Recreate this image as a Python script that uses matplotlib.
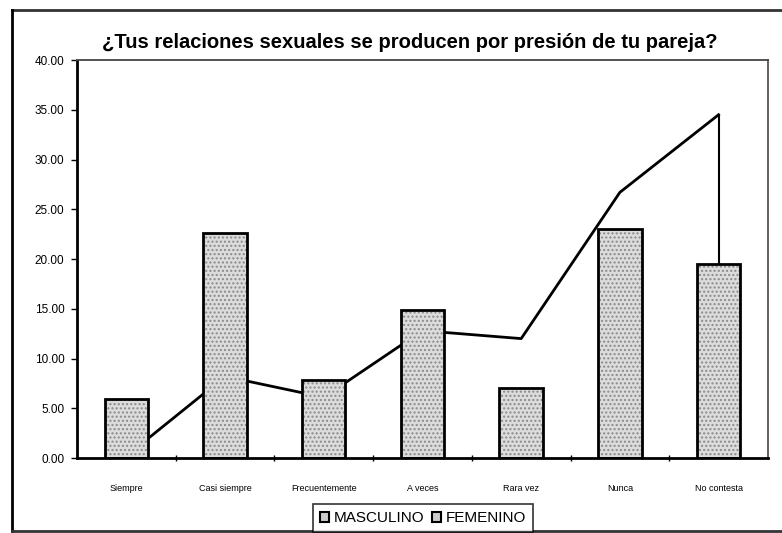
#Chart: presion de la pareja en las relaciones sexuales (masculino / femenino)

import matplotlib
matplotlib.use("Agg")
import matplotlib.pyplot as plt
from matplotlib.patches import Rectangle
from matplotlib.lines import Line2D

plt.rcParams['font.family'] = ['Liberation Sans', 'DejaVu Sans']

#data
categorias = ["Siempre", "Casi siempre", "Frecuentemente", "A veces", "Rara vez", "Nunca", "No contesta"]
masculino = [5.9, 22.6, 7.8, 14.9, 7.0, 23.0, 19.5]
femenino = [0.2, 8.2, 6.1, 12.8, 12.0, 26.7, 34.5]
yticks = [0, 5, 10, 15, 20, 25, 30, 35, 40]

x = list(range(len(categorias)))

fig = plt.figure(figsize=(7.82, 5.33), dpi=100)
ax = fig.add_axes([0.0985, 0.1407, 0.8835, 0.7467])

#line (femenino) goes behind the bars
ax.plot(x, femenino, color="black", linewidth=2, zorder=1)
ax.vlines(x[-1], 0, femenino[-1], color="black", linewidth=1.5, zorder=1)

#bars (masculino): dotted grey fill, then thick black outline
ax.bar(x, masculino, width=0.44, color="#dcdcdc", edgecolor="#8a8a8a",
       hatch="....", linewidth=0, zorder=2)
ax.bar(x, masculino, width=0.44, fill=False, edgecolor="black", linewidth=2, zorder=3)

ax.set_xlim(-0.5, len(categorias) - 0.5)
ax.set_ylim(0, 40)
ax.set_yticks(yticks)
ax.set_yticklabels(["%.2f" % v for v in yticks], fontsize=8.5)
ax.set_xticks(x)
ax.set_xticklabels(categorias, fontsize=6.5)
ax.set_xticks([i + 0.5 for i in x[:-1]], minor=True)
ax.tick_params(axis="x", which="major", length=0, pad=19)
ax.tick_params(axis="x", which="minor", length=5, direction="inout", width=1)
ax.tick_params(axis="y", length=4, width=1, pad=5)

ax.spines["left"].set_linestyle((0, (1, 1)))
ax.spines["left"].set_linewidth(2)
ax.spines["top"].set_linestyle((0, (1, 1)))
ax.spines["top"].set_color("#444444")
ax.spines["top"].set_linewidth(1.3)
ax.spines["right"].set_color("#555555")
ax.spines["right"].set_linewidth(1.3)
ax.spines["bottom"].set_linewidth(2)

fig.text(0.524, 0.92, "¿Tus relaciones sexuales se producen por presión de tu pareja?",
         ha="center", va="center", fontsize=14.5, fontweight="bold")

#legend: both entries shown as small squares
h1 = Rectangle((0, 0), 1, 1, facecolor="#cccccc", edgecolor="black", linewidth=1.5)
h2 = Rectangle((0, 0), 1, 1, facecolor="#cccccc", edgecolor="black", linewidth=1.5)
leg = fig.legend([h1, h2], ["MASCULINO", "FEMENINO"], loc="center", bbox_to_anchor=(0.541, 0.028),
                 ncol=2, fontsize=11, handlelength=0.6, handleheight=0.6, handletextpad=0.3,
                 columnspacing=0.5, frameon=True, fancybox=False, borderpad=0.45)
leg.get_frame().set_edgecolor("black")
leg.get_frame().set_linewidth(1.2)

#outer frame of the chart (top, left, bottom; right side is off the scan)
fig.add_artist(Line2D([12 / 782, 1.0], [1 - 10 / 533, 1 - 10 / 533], transform=fig.transFigure,
                      color="#333333", linewidth=2))
fig.add_artist(Line2D([12 / 782, 12 / 782], [1 - 10 / 533, 1 - 531 / 533], transform=fig.transFigure,
                      color="black", linewidth=2))
fig.add_artist(Line2D([12 / 782, 1.0], [1 - 531 / 533, 1 - 531 / 533], transform=fig.transFigure,
                      color="#333333", linewidth=2))

fig.savefig("out.png", dpi=100)
